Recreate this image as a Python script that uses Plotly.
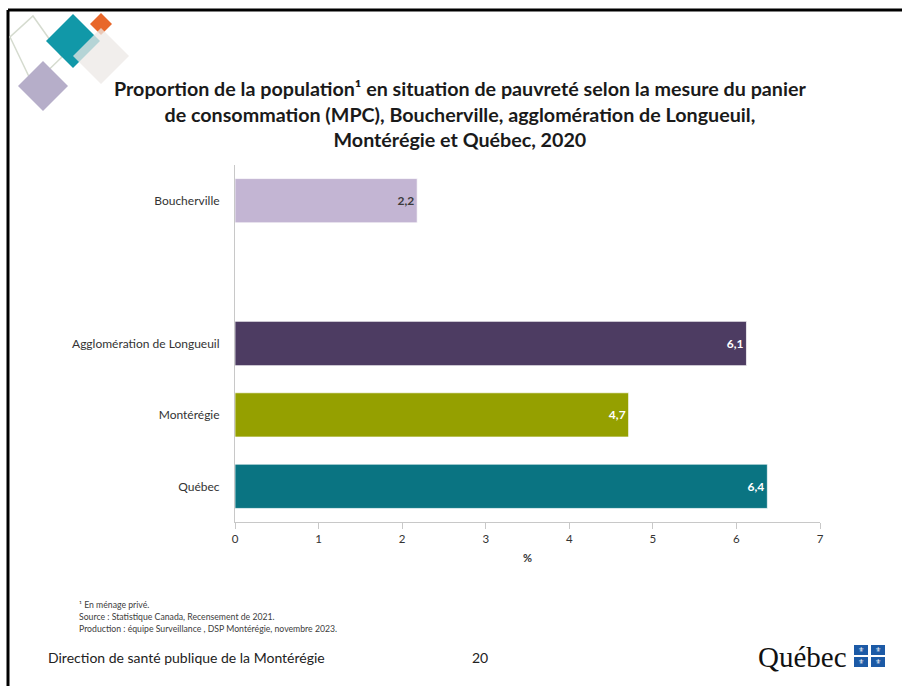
import plotly.graph_objects as go

# ---- data ----
categories = ["Boucherville", " ", "Agglomération de Longueuil", "Montérégie", "Québec"]
values = [2.18, None, 6.12, 4.71, 6.37]
value_labels = ["2,2", "", "6,1", "4,7", "6,4"]
bar_colors = ["#c3b5d3", "#ffffff", "#4d3c62", "#95a000", "#0a7482"]
label_colors = ["#3b3b3b", "#ffffff", "#ffffff", "#ffffff", "#ffffff"]
x_ticks = [0, 1, 2, 3, 4, 5, 6, 7]

title_text = ("<b>Proportion de la population¹ en situation de pauvreté selon la mesure du panier<br>"
              "de consommation (MPC), Boucherville, agglomération de Longueuil,<br>"
              "Montérégie et Québec, 2020</b>")
footnotes = ["¹ En ménage privé.",
             "Source : Statistique Canada, Recensement de 2021.",
             "Production : équipe Surveillance , DSP Montérégie, novembre 2023."]

W, H = 902, 686
L, R, T, B = 235, 820, 165, 522

def fx(px):
    return (px - L) / (R - L)

def fy(py):
    return (B - py) / (B - T)

FONT = "Lato"

fig = go.Figure()
fig.add_trace(go.Bar(
    y=categories, x=values, orientation="h",
    marker=dict(color=bar_colors, line=dict(color="rgba(255,255,255,0.7)", width=1)),
    width=0.62,
    text=value_labels, textposition="inside", insidetextanchor="end",
    textfont=dict(family=FONT, size=12, color=label_colors, weight="bold"),
    hoverinfo="skip",
))

shapes = []
# frame
shapes.append(dict(type="line", xref="paper", yref="paper", x0=fx(8), x1=fx(905), y0=fy(10), y1=fy(10),
                   line=dict(color="black", width=3)))
shapes.append(dict(type="line", xref="paper", yref="paper", x0=fx(8), x1=fx(8), y0=fy(10), y1=fy(690),
                   line=dict(color="black", width=3)))

def poly(points, fill, line_color=None, opacity=1.0, lw=0):
    path = "M " + " L ".join(f"{fx(x)} {fy(y)}" for x, y in points) + " Z"
    return dict(type="path", xref="paper", yref="paper", path=path, fillcolor=fill,
                opacity=opacity, line=dict(color=line_color or "rgba(0,0,0,0)", width=lw))

def diamond(cx, cy, h, fill, opacity=1.0):
    return poly([(cx, cy - h), (cx + h, cy), (cx, cy + h), (cx - h, cy)], fill, opacity=opacity)

shapes.append(poly([(33, 16), (62, 57), (33, 85), (10, 37)], "rgba(0,0,0,0)",
                   line_color="#d5dbcf", lw=1.5))
shapes.append(diamond(101, 24, 11, "#e8672a"))
shapes.append(diamond(73, 41, 27, "#1198a8"))
shapes.append(diamond(101, 56, 28, "#ece8e6", opacity=0.75))
shapes.append(diamond(43, 86, 25, "#b6aec9"))

# Quebec flag squares
for (x0, y0) in [(854, 645), (871, 645), (854, 657), (871, 657)]:
    shapes.append(dict(type="rect", xref="paper", yref="paper", x0=fx(x0), x1=fx(x0 + 14),
                       y0=fy(y0), y1=fy(y0 + 10), fillcolor="#1c5aa6", line=dict(width=0)))

annotations = []
annotations.append(dict(xref="paper", yref="paper", x=fx(460), y=fy(114), text=title_text,
                        showarrow=False, xanchor="center", yanchor="middle", align="center",
                        font=dict(family=FONT, size=19.7, color="#1a1a1a")))
for i, t in enumerate(footnotes):
    annotations.append(dict(xref="paper", yref="paper", x=fx(77), y=fy(604 + 12 * i), text=t,
                            showarrow=False, xanchor="left", yanchor="middle",
                            font=dict(family=FONT, size=8.7, color="#404040")))
annotations.append(dict(xref="paper", yref="paper", x=fx(46), y=fy(657),
                        text="Direction de santé publique de la Montérégie",
                        showarrow=False, xanchor="left", yanchor="middle",
                        font=dict(family=FONT, size=14, color="#222222")))
annotations.append(dict(xref="paper", yref="paper", x=fx(480), y=fy(657), text="20",
                        showarrow=False, xanchor="center", yanchor="middle",
                        font=dict(family=FONT, size=14, color="#222222")))
annotations.append(dict(xref="paper", yref="paper", x=fx(849), y=fy(657), text="Québec",
                        showarrow=False, xanchor="right", yanchor="middle",
                        font=dict(family="Liberation Serif", size=29, color="#111111")))
for (x0, y0) in [(854, 645), (871, 645), (854, 657), (871, 657)]:
    annotations.append(dict(xref="paper", yref="paper", x=fx(x0 + 7), y=fy(y0 + 5), text="⚜",
                            showarrow=False, xanchor="center", yanchor="middle",
                            font=dict(family="DejaVu Sans", size=7, color="white")))

fig.update_layout(
    width=W, height=H,
    margin=dict(l=L, r=W - R, t=T, b=H - B, pad=0),
    paper_bgcolor="white", plot_bgcolor="white",
    showlegend=False,
    shapes=shapes, annotations=annotations,
    font=dict(family=FONT),
    xaxis=dict(range=[0, 7], tickvals=x_ticks, ticktext=[str(v) for v in x_ticks],
               showgrid=False, zeroline=False, showline=True, linecolor="#c8c8c8", linewidth=1,
               ticks="outside", ticklen=6, tickcolor="#c8c8c8",
               tickfont=dict(family=FONT, size=11.5, color="#333333"),
               title=dict(text="<b>%</b>", font=dict(family=FONT, size=11, color="#333333"), standoff=10)),
    yaxis=dict(categoryorder="array", categoryarray=categories, autorange="reversed",
               showgrid=False, zeroline=False, showline=True, linecolor="#c8c8c8", linewidth=1,
               ticks="", ticklabelstandoff=12,
               tickfont=dict(family=FONT, size=12, color="#333333")),
)

fig.write_html("out.html", config={"displayModeBar": False},
               post_script="document.body.style.margin='0';document.body.style.overflow='hidden';")
